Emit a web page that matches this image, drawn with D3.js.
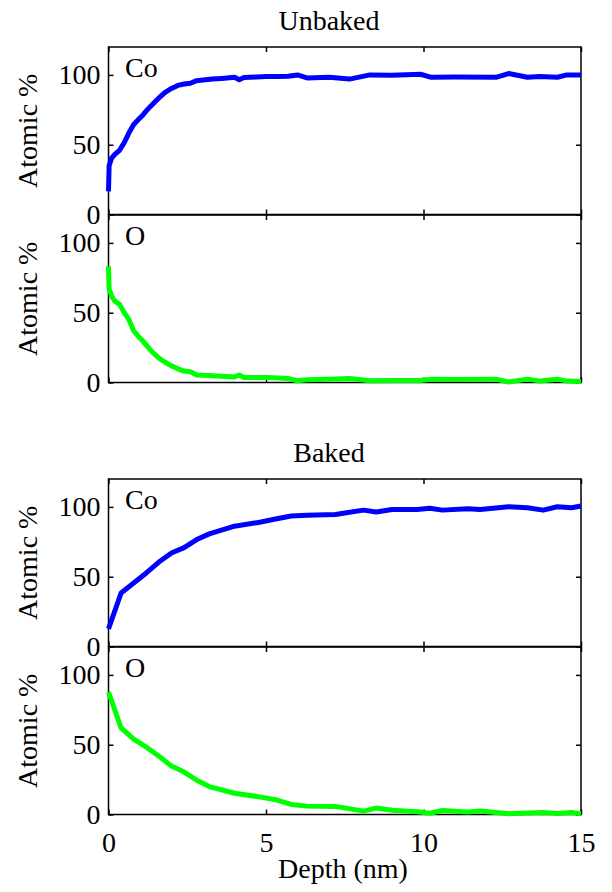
<!DOCTYPE html>
<html>
<head>
<meta charset="utf-8">
<script src="https://cdn.jsdelivr.net/npm/d3@7"></script>
<style>
  body { margin: 0; background: #fff; }
</style>
</head>
<body>
<script>
var width = 612,
    height = 892,
    fontSize = 28,   // everything in the figure uses the same size
    fontFamily = "'Liberation Serif', Tinos, 'Times New Roman', Times, 'Nimbus Roman', 'DejaVu Serif', serif";

// depth (nm) grid for the unbaked sample
var unbakedDepth = [0, 0.02, 0.1, 0.2, 0.35, 0.5, 0.65, 0.8, 0.95, 1.1, 1.25, 1.4, 1.6, 1.8, 2.0, 2.2, 2.4, 2.6, 2.8, 3.0,
    3.3, 3.6, 4.0, 4.15, 4.3, 4.7, 5.0, 5.4, 5.7, 6.0, 6.3, 7.0, 7.65, 8.3, 9.0, 9.9, 10.25, 11.0, 12.3, 12.7,
    13.3, 13.7, 14.25, 14.55, 15];
var unbakedCo = [16.6, 35, 40.5, 43, 46, 51.5, 58.5, 64.5, 68, 71.5, 75.5, 79, 83.5, 87.5, 90.3, 92.5, 93.5, 94, 95.9, 96.3,
    97, 97.5, 98.3, 96.5, 98.1, 98.5, 98.8, 98.8, 99, 100, 97.8, 98.3, 97, 100, 99.8, 100.5, 98.3, 98.5, 98.3, 101,
    98.3, 98.8, 98.3, 100, 100];
var unbakedO = [83.3, 67, 62, 58.3, 56, 50, 45, 37, 33, 29.5, 25.5, 21.5, 17.5, 14.5, 11.9, 9.8, 8.2, 7.7, 5.4, 5.2,
    4.8, 4.4, 4.0, 5.4, 3.6, 3.6, 3.6, 3.2, 2.9, 1.2, 1.9, 2.4, 2.9, 1.2, 1.4, 1.4, 2.4, 2.2, 2.4, 0.4,
    2.4, 1.0, 2.4, 1.0, 0.7];

// depth (nm) grid for the baked sample
var bakedDepth = [0, 0.4, 0.8, 1.2, 1.6, 2.0, 2.4, 2.8, 3.2, 4.0, 4.8, 5.3, 5.8, 6.3, 7.2, 8.1, 8.5, 9.0, 9.8, 10.2,
    10.6, 11.4, 11.8, 12.7, 13.3, 13.8, 14.25, 14.7, 15];
var bakedCo = [12.6, 38.3, 45.5, 52.7, 60.5, 67, 70.8, 76.6, 80.7, 86.2, 89, 91.3, 93.5, 94, 94.6, 97.7, 96.3, 98.2, 98.2, 99.1,
    97.7, 98.7, 98.2, 100.1, 99.4, 97.7, 100.1, 99.4, 100.6];
var bakedO = [87.7, 62, 54, 48.3, 41.8, 34.7, 30.4, 24.6, 20, 15.2, 12.6, 10.6, 7.2, 6.0, 5.8, 2.4, 4.6, 3.0, 2.0, 0.9,
    2.9, 1.8, 2.5, 0.5, 1.0, 1.5, 0.8, 1.5, 0.5];

var xTicks = [0, 5, 10, 15],
    yTicks = [0, 50, 100];

var titles = ["Unbaked", "Baked"];

// one entry per axes box
var panels = [
    {top: 47,  label: "Co", depth: unbakedDepth, values: unbakedCo, color: "#0000ff", title: titles[0]},
    {top: 215, label: "O",  depth: unbakedDepth, values: unbakedO,  color: "#00ff00"},
    {top: 479, label: "Co", depth: bakedDepth,   values: bakedCo,   color: "#0000ff", title: titles[1]},
    {top: 647, label: "O",  depth: bakedDepth,   values: bakedO,    color: "#00ff00", xlabels: true}
];

var left = 108.5,
    right = 581,
    panelH = 167.5,
    tick = 5;

var x = d3.scaleLinear().domain([0, 15]).range([left, right]);

var svg = d3.select("body").append("svg")
    .attr("width", width)
    .attr("height", height);

svg.append("rect").attr("width", width).attr("height", height).attr("fill", "#fff");

panels.forEach(function(p) {
    var y = d3.scaleLinear().domain([0, 120]).range([p.top + panelH, p.top]);
    var g = svg.append("g");

    // box ticks on all four sides, pointing in
    g.append("g")
        .attr("transform", "translate(" + left + ",0)")
        .call(d3.axisLeft(y).tickValues(yTicks).tickSizeInner(-tick).tickSizeOuter(0).tickPadding(8));
    g.append("g")
        .attr("transform", "translate(" + right + ",0)")
        .call(d3.axisRight(y).tickValues(yTicks).tickSizeInner(-tick).tickSizeOuter(0).tickFormat(""));
    g.append("g")
        .attr("transform", "translate(0," + p.top + ")")
        .call(d3.axisTop(x).tickValues(xTicks).tickSizeInner(-tick).tickSizeOuter(0).tickFormat(""));
    g.append("g")
        .attr("transform", "translate(0," + (p.top + panelH) + ")")
        .call(d3.axisBottom(x).tickValues(xTicks).tickSizeInner(-tick).tickSizeOuter(0).tickPadding(18)
            .tickFormat(p.xlabels ? d3.format("d") : ""));

    g.selectAll(".domain").remove();
    g.selectAll(".tick line").attr("stroke", "#000").attr("stroke-width", 1.5);

    g.append("rect")
        .attr("x", left)
        .attr("y", p.top)
        .attr("width", right - left)
        .attr("height", panelH)
        .attr("fill", "none")
        .attr("stroke", "#000")
        .attr("stroke-width", 1.5);

    var line = d3.line()
        .x(function(d, i) { return x(p.depth[i]); })
        .y(function(d) { return y(d); });

    g.append("path")
        .datum(p.values)
        .attr("d", line)
        .attr("fill", "none")
        .attr("stroke", p.color)
        .attr("stroke-width", 5)
        .attr("stroke-linejoin", "round");

    g.append("text")
        .attr("x", 125)
        .attr("y", p.top + 30)
        .text(p.label);

    g.append("text")
        .attr("transform", "translate(37," + (p.top + panelH / 2) + ") rotate(-90)")
        .attr("text-anchor", "middle")
        .text("Atomic %");

    if (p.title) {
        g.append("text")
            .attr("x", 329)
            .attr("y", p.top - 17.5)
            .attr("text-anchor", "middle")
            .text(p.title);
    }
});

svg.append("text")
    .attr("x", 343)
    .attr("y", 878)
    .attr("text-anchor", "middle")
    .text("Depth (nm)");

// same face on every label, axes included
svg.selectAll("text")
    .attr("font-family", fontFamily)
    .attr("font-size", fontSize)
    .attr("fill", "#000");
</script>
</body>
</html>
